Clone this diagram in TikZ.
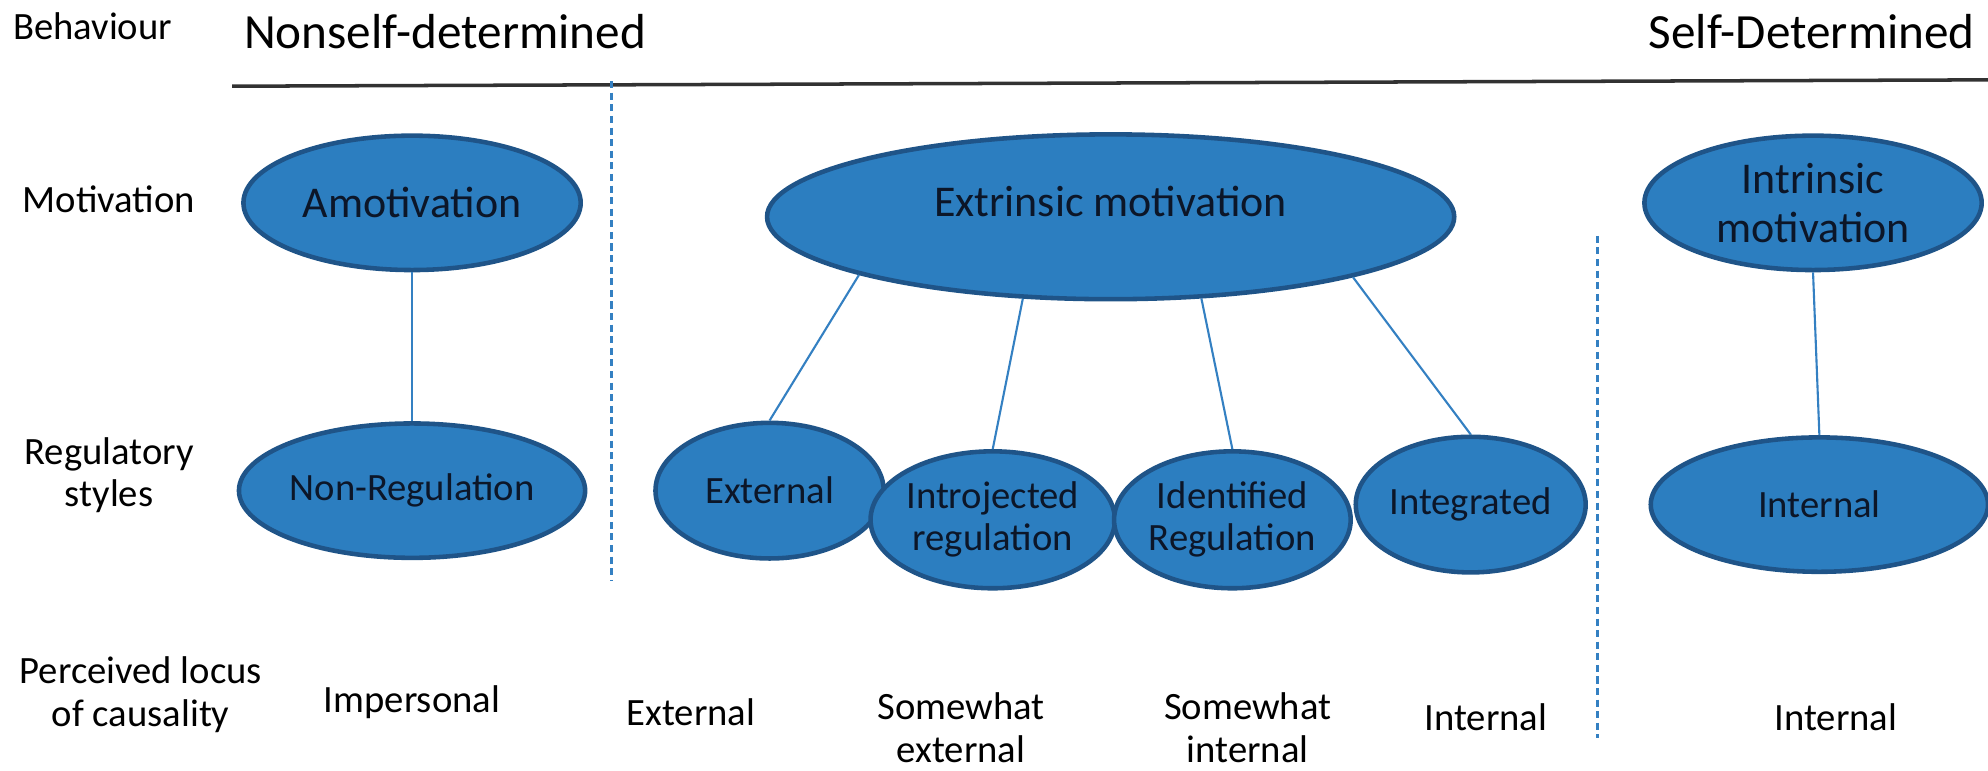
\documentclass[tikz,border=0pt]{standalone}
\usepackage{fontspec}
\setmainfont{Carlito}
\usetikzlibrary{shapes.geometric}
\definecolor{sdtfill}{RGB}{44,126,192}
\definecolor{sdtedge}{RGB}{31,84,136}
\definecolor{sdtline}{RGB}{52,128,194}
\definecolor{sdttext}{RGB}{12,22,40}
\definecolor{rulegray}{RGB}{50,50,50}
\newcommand{\unitpx}{0.01268cm}

\tikzset{
	motiv/.style={ellipse, draw=sdtedge, fill=sdtfill, line width=1.3pt, text=sdttext,
		font=\fontsize{12.5}{14}\selectfont, align=center, inner sep=0pt},
	regul/.style={motiv, font=\fontsize{11}{12}\selectfont},
	rowlabel/.style={font=\fontsize{11}{12}\selectfont, align=center, inner sep=0pt},
	headlabel/.style={font=\fontsize{14}{16}\selectfont, inner sep=0pt},
	link/.style={draw=sdtline, line width=0.6pt},
	divider/.style={draw=sdtline, line width=0.8pt, dash pattern=on 2pt off 1.3pt}
}

\begin{document}
\begin{tikzpicture}[x=\unitpx, y=-\unitpx]
	%%%%% START %%%%%
	\useasboundingbox (0,0) rectangle (1568,608);
	
	% header
	\node[rowlabel] (behav) at (73,21) {Behaviour};
	\node[headlabel] (nonself) at (351,25) {Nonself-determined};
	\node[headlabel] (self) at (1429,25) {Self-Determined};
	\draw[rulegray, line width=1pt] (183,68) -- (1568,63);
	
	% dividers
	\draw[divider] (482,64) -- (482,458);
	\draw[divider] (1260,186) -- (1260,582);
	
	% row labels
	\node[rowlabel] (motrow) at (86,157) {Motivation};
	\node[rowlabel] (regrow) at (86,375) {Regulatory\\styles};
	\node[rowlabel] (locrow) at (111,548) {Perceived locus\\of causality};
	
	% motivation
	\node[motiv, minimum width=266*\unitpx, minimum height=106*\unitpx] (amot) at (325,160) {Amotivation};
	\node[motiv, minimum width=542*\unitpx, minimum height=130*\unitpx, text depth=8.6pt] (extr) at (876,171) {Extrinsic motivation};
	\node[motiv, minimum width=266*\unitpx, minimum height=106*\unitpx] (intr) at (1430,160) {Intrinsic\\motivation};
	
	% regulatory styles
	\node[regul, minimum width=266*\unitpx, minimum height=106*\unitpx] (nonreg) at (325,387) {Non-Regulation};
	\node[regul, minimum width=180*\unitpx, minimum height=107*\unitpx] (extreg) at (607,387) {External};
	\node[regul, minimum width=180*\unitpx, minimum height=108*\unitpx] (introj) at (783,410) {Introjected\\regulation};
	\node[regul, minimum width=180*\unitpx, minimum height=108*\unitpx] (ident) at (972,410) {Identified\\Regulation};
	\node[regul, minimum width=180*\unitpx, minimum height=107*\unitpx] (integ) at (1160,398) {Integrated};
	\node[regul, minimum width=266*\unitpx, minimum height=106*\unitpx] (intreg) at (1435,398) {Internal};
	
	\draw[link] (amot.south) -- (nonreg.north);
	\draw[link] (extr.193.5) -- (extreg.north);
	\draw[link] (extr.223) -- (introj.north);
	\draw[link] (extr.318) -- (ident.north);
	\draw[link] (extr.346.5) -- (integ.north);
	\draw[link] (intr.south) -- (intreg.north);
	
	% perceived locus of causality
	\node[rowlabel] (impers) at (325,554) {Impersonal};
	\node[rowlabel] (locext) at (545,562) {External};
	\node[rowlabel] (locsext) at (758,574) {Somewhat\\external};
	\node[rowlabel] (locsint) at (984,574) {Somewhat\\internal};
	\node[rowlabel] (locint) at (1172,566) {Internal};
	\node[rowlabel] (locintr) at (1448,566) {Internal};
	%%%%% END %%%%%
\end{tikzpicture}
\end{document}
